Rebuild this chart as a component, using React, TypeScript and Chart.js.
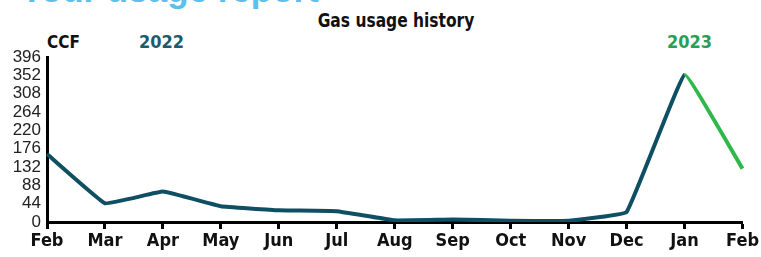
import React, { useEffect, useRef } from "react";
import { Chart, registerables } from "chart.js";

Chart.register(...registerables);

const months = ["Feb", "Mar", "Apr", "May", "Jun", "Jul", "Aug", "Sep", "Oct", "Nov", "Dec", "Jan", "Feb"];
const usage = [163, 45, 73, 38, 28, 26, 4, 6, 3, 3, 24, 353, 128];
const yTicks = [0, 44, 88, 132, 176, 220, 264, 308, 352, 396];
const year2023Start = 11;

const TEAL = "#0f4f64";
const GREEN = "#2fb84a";

export default function App() {
  const ref = useRef<HTMLCanvasElement | null>(null);
  useEffect(() => {
    if (!ref.current) return;
    const chart = new Chart(ref.current, {
      type: "line",
      data: {
        labels: months,
        datasets: [
          {
            data: usage,
            borderColor: TEAL,
            borderWidth: 4,
            pointRadius: 0,
            tension: 0.07,
            fill: false,
            segment: {
              borderColor: (ctx: any) => (ctx.p0DataIndex >= year2023Start ? GREEN : TEAL),
            },
          },
        ],
      },
      options: {
        animation: false,
        responsive: false,
        maintainAspectRatio: false,
        layout: { padding: { top: 57, right: 17, left: 0, bottom: 0 } },
        plugins: { legend: { display: false }, tooltip: { enabled: false }, title: { display: false } },
        scales: {
          x: {
            type: "category",
            offset: false,
            afterFit: (s: any) => {
              s.height = 35;
            },
            border: { display: true, color: "#000", width: 3 },
            grid: {
              display: true,
              drawOnChartArea: false,
              drawTicks: true,
              tickLength: 7,
              tickWidth: 3,
              color: "#000",
            },
            ticks: {
              autoSkip: false,
              maxRotation: 0,
              padding: 2,
              color: "#111",
              font: { family: "'Liberation Sans Narrow', 'DejaVu Sans Condensed', sans-serif", size: 18, weight: "bold" },
            },
          },
          y: {
            min: 0,
            max: 396,
            afterFit: (s: any) => {
              s.width = 47;
            },
            afterBuildTicks: (s: any) => {
              s.ticks = yTicks.map((v) => ({ value: v }));
            },
            border: { display: true, color: "#000", width: 3 },
            grid: { display: false, drawTicks: false },
            ticks: {
              autoSkip: false,
              padding: 6,
              color: "#222",
              font: { family: "'Liberation Sans', Arial, sans-serif", size: 17 },
            },
          },
        },
      },
    });
    return () => chart.destroy();
  }, []);

  const narrow = "'Liberation Sans Narrow', 'DejaVu Sans Condensed', sans-serif";
  return (
    <div style={{ position: "absolute", left: 0, top: 0, width: 761, height: 257, background: "#fff", overflow: "hidden" }}>
      <div
        style={{
          position: "absolute",
          left: 20,
          top: -28,
          fontFamily: "'Liberation Sans', Arial, sans-serif",
          fontWeight: "bold",
          fontSize: 35,
          lineHeight: "35px",
          color: "#5cc0ea",
          whiteSpace: "nowrap",
        }}
      >
        Your usage report
      </div>
      <div
        style={{
          position: "absolute",
          left: 0,
          width: 792,
          top: 7,
          textAlign: "center",
          fontFamily: narrow,
          fontWeight: "bold",
          fontSize: 20,
          lineHeight: "26px",
          color: "#111",
          whiteSpace: "nowrap",
          transform: "scaleX(0.86)",
          transformOrigin: "396px 0",
        }}
      >
        Gas usage history
      </div>
      <div style={{ position: "absolute", left: 47, top: 32, fontFamily: narrow, fontWeight: "bold", fontSize: 17, lineHeight: "20px", color: "#111" }}>
        CCF
      </div>
      <div style={{ position: "absolute", left: 139, top: 32, fontFamily: narrow, fontWeight: "bold", fontSize: 18, lineHeight: "20px", color: "#1d5a6c" }}>
        2022
      </div>
      <div style={{ position: "absolute", left: 667, top: 32, fontFamily: narrow, fontWeight: "bold", fontSize: 18, lineHeight: "20px", color: "#2a9e52" }}>
        2023
      </div>
      <canvas ref={ref} width={761} height={257} style={{ position: "absolute", left: 0, top: 0 }} />
    </div>
  );
}
